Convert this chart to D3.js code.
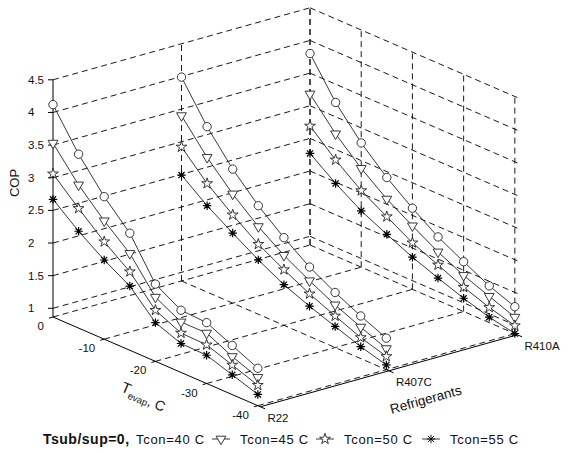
<!DOCTYPE html>
<html>
<head>
<meta charset="utf-8">
<script src="https://cdn.jsdelivr.net/npm/d3@7"></script>
<style>
body { margin: 0; background: #fff; }
text { font-family: 'Liberation Sans', Arial, sans-serif; fill: #111; }
.grid { stroke: #000; stroke-width: 0.9; stroke-dasharray: 6,4; fill: none; }
.axis { stroke: #000; stroke-width: 1; fill: none; }
.curve { fill: none; stroke: #222; stroke-width: 0.9; }
.mark { fill: #fff; stroke: #222; stroke-width: 0.9; }
</style>
</head>
<body>
<div id="chart"></div>
<script>
// evaporating temperatures (x) and refrigerants (y)
const tevap = [0, -5, -10, -15, -20, -25, -30, -35, -40];
const refrigerants = ['R22', 'R407C', 'R410A'];
const tconLabels = ['Tcon=40 C', 'Tcon=45 C', 'Tcon=50 C', 'Tcon=55 C'];

// COP, one row per Tcon (40, 45, 50, 55)
const copR22 = [
    [4.12, 3.53, 3.05, 2.66, 2.05, 1.82, 1.80, 1.62, 1.44],
    [3.53, 3.06, 2.68, 2.35, 1.85, 1.64, 1.64, 1.45, 1.30],
    [3.06, 2.70, 2.36, 2.07, 1.65, 1.47, 1.46, 1.32, 1.18],
    [2.67, 2.35, 2.08, 1.85, 1.46, 1.31, 1.30, 1.17, 1.04]
];
const copR407C = [
    [3.99, 3.40, 2.92, 2.53, 2.21, 1.93, 1.71, 1.52, 1.35],
    [3.40, 2.93, 2.54, 2.21, 1.94, 1.72, 1.52, 1.35, 1.19],
    [2.92, 2.53, 2.22, 1.94, 1.72, 1.52, 1.35, 1.19, 1.07],
    [2.49, 2.19, 1.94, 1.70, 1.49, 1.33, 1.19, 1.05, 0.94]
];
const copR410A = [
    [3.80, 3.22, 2.77, 2.41, 2.11, 1.84, 1.63, 1.43, 1.28],
    [3.18, 2.74, 2.38, 2.08, 1.84, 1.61, 1.42, 1.27, 1.12],
    [2.69, 2.34, 2.04, 1.81, 1.58, 1.41, 1.24, 1.10, 0.99],
    [2.27, 1.98, 1.73, 1.54, 1.36, 1.21, 1.07, 0.95, 0.87]
];

const copTicks = [1, 1.5, 2, 2.5, 3, 3.5, 4, 4.5];
const tevapTicks = [0, -10, -20, -30, -40];

const width = 572, height = 453;

const svg = d3.select('#chart').append('svg')
    .attr('width', width)
    .attr('height', height);

// axis limits, matlab style 3d box
const xLim = [0, -40.5];
const zLim = [0.867, 4.5];

const sx = d3.scaleLinear().domain(xLim).range([0, 1]);
const sy = d3.scalePoint().domain(refrigerants).range([0, 1]);
const sz = d3.scaleLinear().domain(zLim).range([0, 237.2]);

// oblique projection of the box: origin = (Tevap 0, R22, floor)
const origin = [53, 317];
const ex = [207.4, 89.8];   // full Tevap span
const ey = [257, -72];      // full refrigerant span

function proj(t, r, z) {
    const u = sx(t), v = typeof r === 'string' ? sy(r) : r;
    return [origin[0] + u * ex[0] + v * ey[0],
            origin[1] + u * ex[1] + v * ey[1] - sz(z)];
}

const line = d3.line();

function seg(g, a, b, cls) {
    g.append('path').attr('class', cls).attr('d', line([a, b]));
}

// ---- grid on the back walls and the floor
const grid = svg.append('g');
const zTop = zLim[1], zBot = zLim[0];

// wall at Tevap = 0
copTicks.forEach(z => seg(grid, proj(0, 0, z), proj(0, 1, z), 'grid'));
refrigerants.slice(1).forEach(r => seg(grid, proj(0, r, zBot), proj(0, r, zTop), 'grid'));

// wall at R410A
copTicks.forEach(z => seg(grid, proj(0, 1, z), proj(xLim[1], 1, z), 'grid'));
tevapTicks.forEach(t => seg(grid, proj(t, 1, zBot), proj(t, 1, zTop), 'grid'));

// floor
tevapTicks.forEach(t => seg(grid, proj(t, 0, zBot), proj(t, 1, zBot), 'grid'));
refrigerants.slice(1).forEach(r => seg(grid, proj(0, r, zBot), proj(xLim[1], r, zBot), 'grid'));

// ---- axes
const axes = svg.append('g');
seg(axes, proj(0, 0, zBot), proj(0, 0, zTop), 'axis');
seg(axes, proj(0, 0, zBot), proj(xLim[1], 0, zBot), 'axis');
seg(axes, proj(xLim[1], 0, zBot), proj(xLim[1], 1, zBot), 'axis');

// COP ticks and labels
copTicks.forEach(z => {
    const p = proj(0, 0, z);
    seg(axes, p, [p[0] - 5, p[1]], 'axis');
    axes.append('text')
        .attr('x', 28)
        .attr('y', p[1])
        .attr('dy', '0.35em')
        .style('font-size', '11.5px')
        .text(z);
});

// Tevap ticks and labels
tevapTicks.forEach(t => {
    const p = proj(t, 0, zBot);
    seg(axes, p, [p[0] - 4, p[1] + 1.1], 'axis');
    axes.append('text')
        .attr('x', p[0] - 9)
        .attr('y', p[1] + 9)
        .attr('dy', '0.35em')
        .attr('text-anchor', 'end')
        .style('font-size', '11.5px')
        .text(t);
});

// refrigerant ticks and labels
refrigerants.forEach(r => {
    const p = proj(xLim[1], r, zBot);
    seg(axes, p, [p[0] + 4.6, p[1] + 2], 'axis');
    axes.append('text')
        .attr('x', p[0] + 7)
        .attr('y', p[1] + 11)
        .attr('dy', '0.35em')
        .style('font-size', '11.5px')
        .text(r);
});

// axis titles
svg.append('text')
    .attr('transform', 'translate(18.5,183) rotate(-90)')
    .attr('text-anchor', 'middle')
    .style('font-size', '13px')
    .text('COP');

const tLabel = svg.append('text')
    .attr('transform', 'translate(120,391) rotate(23)')
    .style('font-size', '15px');
tLabel.append('tspan').text('T');
tLabel.append('tspan').attr('dy', 4).style('font-size', '9.5px').text('evap');
tLabel.append('tspan').attr('dy', -1.5).style('font-size', '14px').text(', C');

svg.append('text')
    .attr('transform', 'translate(427,404) rotate(-15.6)')
    .attr('text-anchor', 'middle')
    .style('font-size', '13.5px')
    .text('Refrigerants');

// ---- markers
const symAsterisk = {
    draw(ctx, size) {
        const r = Math.sqrt(size) / 2, d = r * 0.72;
        ctx.moveTo(-r, 0); ctx.lineTo(r, 0);
        ctx.moveTo(0, -r); ctx.lineTo(0, r);
        ctx.moveTo(-d, -d); ctx.lineTo(d, d);
        ctx.moveTo(-d, d); ctx.lineTo(d, -d);
    }
};
const markers = [
    { type: d3.symbolCircle, size: 55, rot: 0 },
    { type: d3.symbolTriangle, size: 42, rot: 180 },
    { type: d3.symbolStar, size: 36, rot: 0 },
    { type: symAsterisk, size: 72, rot: 0 }
];

const series = [
    { ref: 'R410A', cop: copR410A },
    { ref: 'R407C', cop: copR407C },
    { ref: 'R22', cop: copR22 }
];

const plot = svg.append('g');
series.forEach(s => {
    s.cop.forEach((row, k) => {
        const pts = row.map((c, i) => proj(tevap[i], s.ref, c));
        plot.append('path')
            .attr('class', 'curve')
            .attr('d', line(pts));
        plot.selectAll(null)
            .data(pts)
            .join('path')
            .attr('class', 'mark')
            .attr('transform', d => 'translate(' + d[0] + ',' + d[1] + ') rotate(' + markers[k].rot + ')')
            .attr('d', d3.symbol().type(markers[k].type).size(markers[k].size))
            .style('stroke-width', k === 3 ? 1.2 : 0.9)
            .style('stroke', k === 3 ? '#000' : '#222');
    });
});

// ---- legend
const legend = svg.append('g');
legend.append('text')
    .attr('x', 43)
    .attr('y', 444)
    .style('font-size', '14px')
    .style('font-weight', 'bold')
    .style('letter-spacing', '0.5px')
    .text('Tsub/sup=0,');

const legendX = [136, 240, 344, 450];
tconLabels.forEach((lab, k) => {
    const tx = legendX[k];
    if (k > 0) {
        const mx = tx - 19;
        legend.append('path').attr('class', 'curve')
            .attr('d', line([[mx - 9, 439], [mx + 9, 439]]));
        legend.append('path').attr('class', 'mark')
            .attr('transform', 'translate(' + mx + ',439) rotate(' + markers[k].rot + ')')
            .attr('d', d3.symbol().type(markers[k].type).size(markers[k].size))
            .style('stroke', k === 3 ? '#000' : '#222');
    }
    legend.append('text')
        .attr('x', tx)
        .attr('y', 444)
        .style('font-size', '13px')
        .style('letter-spacing', '0.7px')
        .text(lab);
});
</script>
</body>
</html>
